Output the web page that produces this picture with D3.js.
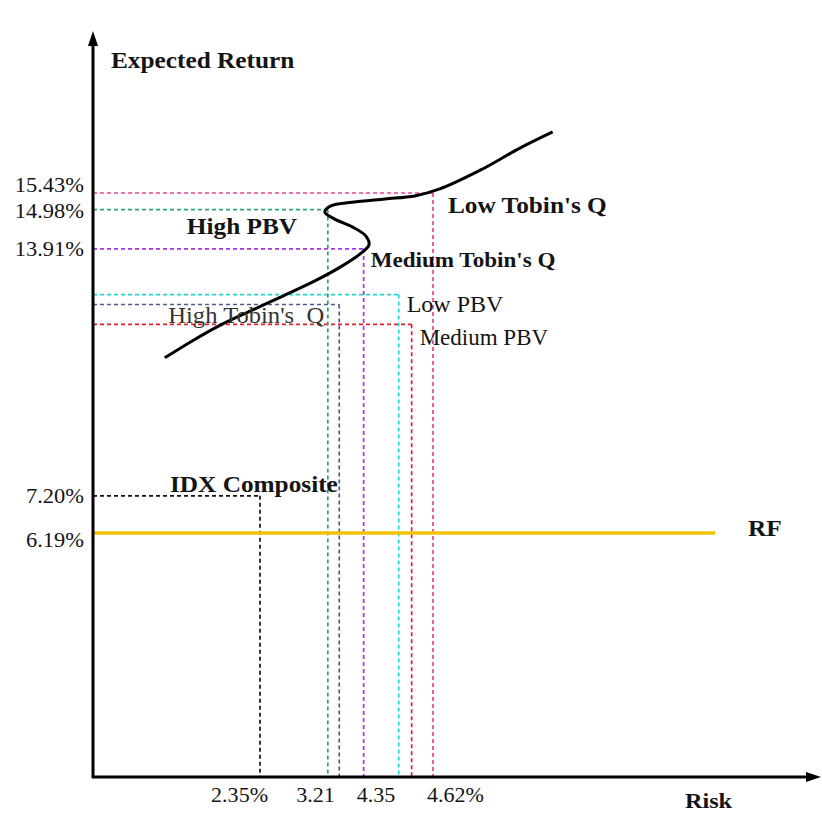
<!doctype html>
<html>
  <head>
    <meta charset="utf-8">
    <title>Expected return vs risk</title>
    <script src="https://cdnjs.cloudflare.com/ajax/libs/d3/7.8.5/d3.min.js"></script>
    <style>
      body { margin: 0; background: #fff; }
      text { font-family: "Liberation Serif", "Times New Roman", serif; fill: #141414; }
    </style>
  </head>
  <body>
    <div id="chart"></div>
    <script>
      // portfolios: risk (x) and expected return (y)
      const names   = ["Low Tobin's Q", "High PBV", "Medium Tobin's Q", "Low PBV", "High Tobin's Q", "Medium PBV", "IDX Composite"];
      const risks   = [4.62, 3.24, 3.71, 4.17, 3.39, 4.34, 2.35];
      const returns = [15.43, 14.98, 13.91, 12.67, 12.40, 11.86, 7.20];
      const colors  = ["#e6468f", "#2aa57a", "#a634e6", "#22d6d6", "#4d5a8c", "#e0202e", "#111"];

      const rf = 6.19;

      // tick labels
      const yTicks = [15.43, 14.98, 13.91, 7.20, 6.19];
      const yTickLabels = ["15.43%", "14.98%", "13.91%", "7.20%", "6.19%"];
      const xTicks = [2.35, 3.24, 3.71, 4.62];
      const xTickLabels = ["2.35%", "3.21", "4.35", "4.62%"];

      // efficient frontier curve (risk, return)
      const curveRisk   = [1.10, 1.46, 1.83, 2.22, 2.65, 3.07, 3.43, 3.66, 3.78, 3.74, 3.56, 3.33, 3.20, 3.28, 3.56, 3.99, 4.38, 4.71, 5.24, 5.76, 6.19];
      const curveReturn = [10.95, 11.41, 11.84, 12.22, 12.63, 13.04, 13.45, 13.77, 14.02, 14.26, 14.51, 14.72, 14.91, 15.08, 15.18, 15.27, 15.35, 15.54, 16.05, 16.65, 17.09];

      const W = 822, H = 815;
      const axisX = 93, axisY = 777;

      const x = d3.scaleLinear().domain([2.35, 4.62]).range([260, 433]);
      const y = d3.scaleLinear().domain([6.19, 15.43]).range([533, 193]);

      const svg = d3.select('#chart').append('svg')
        .attr('width', W)
        .attr('height', H);

      // text helper, the original type is a bit wide
      function label(str, px, py, opt) {
        opt = opt || {};
        return svg.append('text')
          .attr('transform', `translate(${px},${py}) scale(${opt.sx || 1.1},1)`)
          .attr('text-anchor', opt.anchor || 'start')
          .style('font-size', (opt.size || 23) + 'px')
          .style('font-weight', opt.bold ? 'bold' : 'normal')
          .text(str);
      }

      // dashed guide lines
      const guides = names.map((n, i) => ({ name: n, r: risks[i], ret: returns[i], c: colors[i] }));

      svg.selectAll('line.h').data(guides).join('line')
        .attr('class', 'h')
        .attr('x1', axisX).attr('x2', d => x(d.r))
        .attr('y1', d => y(d.ret)).attr('y2', d => y(d.ret))
        .attr('stroke', d => d.c)
        .attr('stroke-width', 1.7)
        .attr('stroke-dasharray', '4,3');

      svg.selectAll('line.v').data(guides).join('line')
        .attr('class', 'v')
        .attr('x1', d => x(d.r)).attr('x2', d => x(d.r))
        .attr('y1', d => y(d.ret)).attr('y2', axisY)
        .attr('stroke', d => d.c)
        .attr('stroke-width', 1.7)
        .attr('stroke-dasharray', '4,3');

      // risk free line
      svg.append('line')
        .attr('x1', axisX).attr('x2', 715)
        .attr('y1', y(rf)).attr('y2', y(rf))
        .attr('stroke', '#f2c200')
        .attr('stroke-width', 3.5);

      // frontier
      const line = d3.line()
        .x((d, i) => x(curveRisk[i]))
        .y((d, i) => y(curveReturn[i]))
        .curve(d3.curveCatmullRom.alpha(0.5));

      svg.append('path')
        .attr('d', line(curveRisk))
        .attr('fill', 'none')
        .attr('stroke', '#000')
        .attr('stroke-width', 3);

      // axes with arrows
      svg.append('line')
        .attr('x1', axisX).attr('x2', axisX)
        .attr('y1', axisY + 1).attr('y2', 44)
        .attr('stroke', '#000').attr('stroke-width', 3);
      svg.append('path')
        .attr('d', `M${axisX},31 L${axisX - 5},46 L${axisX + 5},46 Z`)
        .attr('fill', '#000');

      svg.append('line')
        .attr('x1', axisX - 1).attr('x2', 808)
        .attr('y1', axisY).attr('y2', axisY)
        .attr('stroke', '#000').attr('stroke-width', 3);
      svg.append('path')
        .attr('d', `M821,${axisY} L806,${axisY - 5} L806,${axisY + 5} Z`)
        .attr('fill', '#000');

      label('Expected Return', 111, 68, { bold: true });
      label('Risk', 685, 808, { bold: true, size: 22 });
      label('RF', 748, 536, { bold: true });

      // y tick labels
      const yShift = [-8, 1, 0, 0, 7];
      yTicks.forEach((v, i) => {
        label(yTickLabels[i], 84, y(v) + 7 + yShift[i], { anchor: 'end', size: 21, sx: 1.07 });
      });

      // x tick labels
      const xAnchor = ['end', 'end', 'start', 'start'];
      const xShift = [8, 7, -7, -6];
      xTicks.forEach((v, i) => {
        label(xTickLabels[i], x(v) + xShift[i], 802, { anchor: xAnchor[i], size: 21, sx: 1.05 });
      });

      // portfolio labels
      label("Low Tobin's Q", x(risks[0]) + 15, y(returns[0]) + 20, { bold: true });
      label('High PBV', x(risks[1]) - 141, y(returns[1]) + 24, { bold: true });
      label("Medium Tobin's Q", x(risks[2]) + 7, y(returns[2]) + 18, { bold: true, size: 21 });
      label('Low PBV', x(risks[3]) + 8, y(returns[3]) + 17, { size: 24, sx: 1.0 });
      label("High Tobin's  Q", x(risks[4]) - 171, y(returns[4]) + 19, { size: 23, sx: 1.07 }).style('fill', '#333').attr('xml:space', 'preserve');
      label('Medium PBV', x(risks[5]) + 8, y(returns[5]) + 21, { size: 23, sx: 1.0 });
      label('IDX Composite', x(risks[6]) - 90, y(returns[6]) - 4, { bold: true });
    </script>
  </body>
</html>
